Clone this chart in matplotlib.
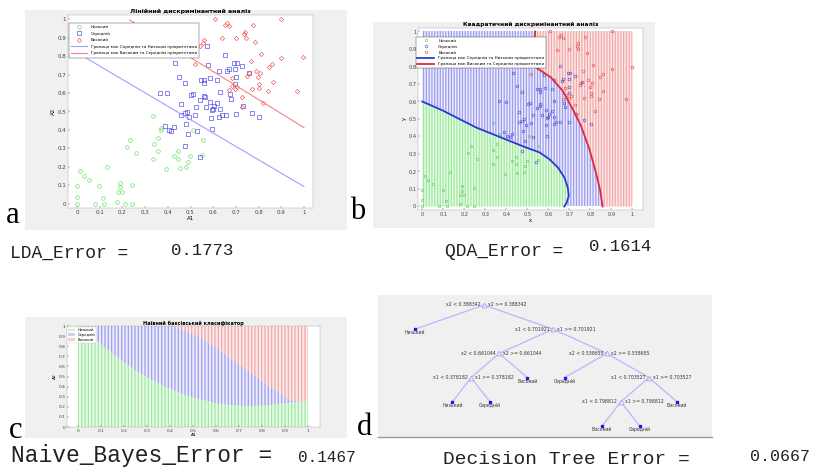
import numpy as np
import matplotlib
matplotlib.use('Agg')
import matplotlib.pyplot as plt
from matplotlib.patches import Rectangle, Patch

# ---------------- data ----------------
low_x = [0.0, 0.0, 0.0, 0.015, 0.029, 0.053, 0.078, 0.097, 0.115, 0.118, 0.134, 0.178, 0.182, 0.188, 0.188,
         0.197, 0.212, 0.218, 0.232, 0.244, 0.244, 0.259, 0.335, 0.335, 0.338, 0.356, 0.357, 0.368, 0.372, 0.394,
         0.429, 0.444, 0.446, 0.453, 0.482, 0.487, 0.497, 0.509, 0.549, 0.553]
low_y = [0.097, 0.036, 0.0, 0.177, 0.151, 0.13, 0.0, 0.097, 0.032, 0.0, 0.198, 0.013, 0.067, 0.115, 0.09,
         0.067, 0.0, 0.306, 0.346, 0.103, 0.0, 0.274, 0.241, 0.477, 0.324, 0.357, 0.285, 0.413, 0.4, 0.187,
         0.261, 0.241, 0.285, 0.193, 0.198, 0.229, 0.259, 0.4, 0.267, 0.346]
mid_x = [0.366, 0.397, 0.387, 0.404, 0.416, 0.426, 0.431, 0.449, 0.459, 0.46, 0.474, 0.476, 0.476, 0.479, 0.485,
         0.49, 0.494, 0.501, 0.512, 0.518, 0.526, 0.529, 0.54, 0.544, 0.546, 0.559, 0.559, 0.559, 0.562, 0.568,
         0.574, 0.578, 0.585, 0.588, 0.591, 0.593, 0.594, 0.6, 0.603, 0.615, 0.618, 0.625, 0.625, 0.629, 0.629,
         0.638, 0.654, 0.656, 0.663, 0.671, 0.674, 0.679, 0.693, 0.696, 0.697, 0.7, 0.703, 0.728, 0.732, 0.76,
         0.771, 0.801, 0.7]
mid_y = [0.602, 0.598, 0.423, 0.4, 0.396, 0.414, 0.76, 0.688, 0.541, 0.48, 0.315, 0.49, 0.652, 0.432, 0.499,
         0.377, 0.468, 0.587, 0.593, 0.479, 0.522, 0.396, 0.252, 0.562, 0.67, 0.656, 0.67, 0.584, 0.577, 0.522,
         0.854, 0.75, 0.679, 0.553, 0.463, 0.508, 0.405, 0.514, 0.53, 0.67, 0.544, 0.72, 0.472, 0.605, 0.512,
         0.481, 0.805, 0.481, 0.719, 0.728, 0.593, 0.566, 0.76, 0.728, 0.649, 0.485, 0.764, 0.748, 0.53, 0.71,
         0.494, 0.472, 0.685]
high_x = [0.518, 0.541, 0.553, 0.559, 0.607, 0.64, 0.651, 0.662, 0.668, 0.671, 0.681, 0.685, 0.7, 0.697, 0.706,
          0.725, 0.729, 0.737, 0.741, 0.743, 0.749, 0.756, 0.765, 0.771, 0.776, 0.785, 0.79, 0.797, 0.804, 0.804,
          0.806, 0.81, 0.821, 0.843, 0.847, 0.859, 0.862, 0.901, 0.901, 0.968, 0.997]
high_y = [0.755, 0.854, 0.868, 0.886, 1.0, 0.895, 0.968, 0.98, 0.962, 0.616, 0.679, 0.638, 0.9, 0.62, 0.634,
          0.58, 0.526, 0.917, 0.932, 0.9, 0.692, 0.706, 0.775, 0.62, 0.968, 0.878, 0.721, 0.685, 0.647, 0.629,
          0.706, 0.811, 0.544, 0.613, 0.739, 0.757, 0.661, 0.787, 1.0, 0.613, 0.796]

class_names = ['Низький', 'Середній', 'Високий']
boundary_names = ['Границя між Середнім та Низьким пріоритетами',
                  'Границя між Високим та Середнім пріоритетами']

# LDA boundary lines
lda_mid_low_x = [0.0, 1.0]
lda_mid_low_y = [0.818, 0.094]
lda_high_mid_x = [0.232, 1.0]
lda_high_mid_y = [0.995, 0.413]

# QDA boundary curves (x as a function of y)
qda_mid_low_y = [0.6, 0.547, 0.499, 0.451, 0.413, 0.375, 0.337, 0.309, 0.27, 0.223, 0.166, 0.109, 0.061, 0.023, 0.0]
qda_mid_low_x = [0.0, 0.1, 0.178, 0.257, 0.336, 0.415, 0.494, 0.558, 0.605, 0.645, 0.676, 0.692, 0.697, 0.687, 0.676]
qda_high_mid_y = [1.0, 0.9, 0.82, 0.794, 0.737, 0.661, 0.556, 0.461, 0.328, 0.194, 0.1, 0.0]
qda_high_mid_x = [0.537, 0.532, 0.532, 0.542, 0.613, 0.668, 0.716, 0.755, 0.795, 0.826, 0.845, 0.858]

# Naive Bayes region borders (y as a function of x)
nb_low_x = [0.0, 0.05, 0.097, 0.169, 0.241, 0.314, 0.386, 0.458, 0.53, 0.603, 0.675, 0.747, 0.819, 0.892, 0.964, 1.0]
nb_low_y = [0.97, 0.92, 0.823, 0.69, 0.573, 0.473, 0.39, 0.323, 0.273, 0.233, 0.213, 0.207, 0.213, 0.233, 0.25, 0.255]
nb_high_x = [0.415, 0.47, 0.53, 0.6, 0.675, 0.75, 0.82, 0.88, 0.92, 0.95, 1.0]
nb_high_y = [1.0, 0.95, 0.89, 0.79, 0.66, 0.54, 0.42, 0.33, 0.27, 0.255, 0.255]

# Decision tree
node_var = ['x2', None, 'x1', 'x2', 'x2', 'x1', None, None, None, None, 'x1', 'x1', None, None, None]
node_cut = [0.388342, None, 0.701921, 0.661044, 0.538655, 0.378182, None, None, None, None,
            0.703527, 0.798812, None, None, None]
node_left = [1, -1, 3, 5, 9, 7, -1, -1, -1, -1, 11, 13, -1, -1, -1]
node_right = [2, -1, 4, 6, 10, 8, -1, -1, -1, -1, 12, 14, -1, -1, -1]
node_class = [None, 'Низький', None, None, None, None, 'Високий', 'Низький', 'Середній', 'Середній',
              None, None, 'Високий', 'Високий', 'Середній']

error_names = ['LDA_Error =', 'QDA_Error =', 'Naive_Bayes_Error =', 'Decision Tree Error =']
error_values = ['0.1773', '0.1614', '0.1467', '0.0667']
panel_letters = ['a', 'b', 'c', 'd']

# ---------------- figure ----------------
W, H = 814, 469
fig = plt.figure(figsize=(W / 100, H / 100), dpi=100)
fig.patch.set_facecolor('white')
plt.rcParams['font.family'] = ['DejaVu Sans']
plt.rcParams['hatch.linewidth'] = 0.9

GRAY = '#f0f0f0'


def ax_px(x0, y0, x1, y1, **kw):
    return fig.add_axes([x0 / W, 1 - y1 / H, (x1 - x0) / W, (y1 - y0) / H], **kw)


def bg(x0, y0, x1, y1, color=GRAY):
    fig.add_artist(Rectangle((x0 / W, 1 - y1 / H), (x1 - x0) / W, (y1 - y0) / H,
                             transform=fig.transFigure, facecolor=color, edgecolor='none', zorder=-10))


def style(ax, fs=3.6):
    ax.set_facecolor('white')
    ax.tick_params(labelsize=fs, length=1.2, width=0.3, direction='in', pad=1.2, colors='#404040')
    for s in ax.spines.values():
        s.set_linewidth(0.35)
        s.set_color('#b0b0b0')
    ticks = np.round(np.arange(0, 1.01, 0.1), 1)
    labels = ['0'] + ['%.1f' % t for t in ticks[1:-1]] + ['1']
    ax.set_xticks(ticks)
    ax.set_xticklabels(labels)
    ax.set_yticks(ticks)
    ax.set_yticklabels(labels)


def fx(x):
    return x / W


def fy(y):
    return 1 - y / H


# ---- panel a: LDA ----
bg(25, 10, 347, 230)
axa = ax_px(68, 15, 313, 208)
style(axa, 4)
axa.plot(low_x, low_y, 'o', ms=2.6, mfc='none', mec='#55dd55', mew=0.45, label=class_names[0])
axa.plot(mid_x, mid_y, 's', ms=2.3, mfc='none', mec='#4646e6', mew=0.45, label=class_names[1])
axa.plot(high_x, high_y, 'D', ms=2.2, mfc='none', mec='#f25050', mew=0.45, label=class_names[2])
axa.plot(lda_mid_low_x, lda_mid_low_y, color='#a0a0ff', lw=0.8, label=boundary_names[0])
axa.plot(lda_high_mid_x, lda_high_mid_y, color='#ff8080', lw=0.8, label=boundary_names[1])
axa.set_xlim(-0.04, 1.04)
axa.set_ylim(-0.022, 1.022)
axa.set_title('Лінійний дискримінантний аналіз', fontsize=4.5, fontweight='bold', pad=1.5)
axa.set_xlabel('A1', fontsize=4, labelpad=1)
axa.set_ylabel('A2', fontsize=4, labelpad=1)
leg = axa.legend(loc='upper left', bbox_to_anchor=(0.004, 0.96), fontsize=3.0, frameon=True, fancybox=False,
                 borderpad=0.6, labelspacing=0.6, handlelength=3.8, handletextpad=0.8, borderaxespad=0,
                 framealpha=1)
leg.get_frame().set_linewidth(0.35)
leg.get_frame().set_edgecolor('#555555')

# ---- panel b: QDA ----
bg(373, 22, 655, 228)
axb = ax_px(418, 28, 643, 210)
style(axb, 3.6)
axb.fill_between([0, 1], 0, 1, facecolor='#ececfb', edgecolor='#9c9cf0', hatch='||||||', lw=0, zorder=0)
axb.fill_betweenx(qda_mid_low_y, 0, qda_mid_low_x, facecolor='#e9f9e9', edgecolor='#9ceb9c',
                  hatch='||||||', lw=0, zorder=0.5)
axb.fill_betweenx(qda_high_mid_y, qda_high_mid_x, 1, facecolor='#fbeaea', edgecolor='#f4a8a8',
                  hatch='||||||', lw=0, zorder=0.5)
axb.plot(low_x, low_y, 's', ms=2.0, mfc='none', mec='#55cc55', mew=0.4, label=class_names[0], zorder=2)
axb.plot(mid_x, mid_y, 'o', ms=2.0, mfc='none', mec='#4040d0', mew=0.4, label=class_names[1], zorder=2)
axb.plot(high_x, high_y, 'o', ms=2.0, mfc='none', mec='#e04848', mew=0.4, label=class_names[2], zorder=2)
axb.plot(qda_mid_low_x, qda_mid_low_y, color='#2a3ad8', lw=1.3, label=boundary_names[0], zorder=3)
axb.plot(qda_high_mid_x, qda_high_mid_y, color='#e0283c', lw=1.3, label=boundary_names[1], zorder=3)
axb.set_xlim(-0.02, 1.05)
axb.set_ylim(-0.02, 1.02)
axb.set_title('Квадратичний дискримінантний аналіз', fontsize=4.2, fontweight='bold', pad=1.5)
axb.set_xlabel('x', fontsize=3.6, labelpad=1)
axb.set_ylabel('y', fontsize=3.6, labelpad=1)
legb = axb.legend(loc='upper left', bbox_to_anchor=(-0.01, 0.95), fontsize=3.0, frameon=True, fancybox=False,
                  borderpad=0.4, labelspacing=0.45, handlelength=4, handletextpad=1.0, borderaxespad=0,
                  framealpha=1)
legb.get_frame().set_linewidth(0.35)
legb.get_frame().set_edgecolor('#555555')
legb.set_zorder(5)

# ---- panel c: Naive Bayes ----
bg(25, 317, 347, 438)
axc = ax_px(67, 326, 320, 427)
style(axc, 3.2)
axc.fill_between([0, 1], 0, 1, facecolor='#ececfb', edgecolor='#9c9cf0', hatch='|||||', lw=0, zorder=0)
axc.fill_between(nb_low_x, 0, nb_low_y, facecolor='#e9f9e9', edgecolor='#9ceb9c', hatch='|||||', lw=0,
                 zorder=0.5)
axc.fill_between(nb_high_x, nb_high_y, 1, facecolor='#fbeaea', edgecolor='#f4a8a8', hatch='|||||', lw=0,
                 zorder=0.5)
axc.set_xlim(-0.048, 1.052)
axc.set_ylim(0, 1.0)
axc.set_title('Наївний баєсівський класифікатор', fontsize=3.6, fontweight='bold', pad=0.5)
axc.set_xlabel('A1', fontsize=3.2, labelpad=0.5)
axc.set_ylabel('A2', fontsize=3.2, labelpad=1)
handles_c = [Patch(facecolor=c, edgecolor='none') for c in ['#c8f2c8', '#cfcff5', '#f5cfcf']]
legc = axc.legend(handles_c, class_names, loc='upper left', bbox_to_anchor=(0.0, 0.99), fontsize=2.6,
                  frameon=True, fancybox=False, borderpad=0.3, labelspacing=0.2, handlelength=2,
                  handletextpad=0.6, borderaxespad=0, framealpha=1)
legc.get_frame().set_linewidth(0.3)

# ---- panel d: decision tree ----
bg(378, 295, 712, 437)
axd = ax_px(378, 295, 712, 437)
axd.set_facecolor(GRAY)
for s in axd.spines.values():
    s.set_visible(False)
axd.spines['bottom'].set_visible(True)
axd.spines['bottom'].set_color('#9a9a9a')
axd.spines['bottom'].set_linewidth(1.0)
axd.set_xticks([])
axd.set_yticks([])

pos = {}
counter = [0]


def layout(n, d):
    if node_left[n] < 0:
        counter[0] += 1
        pos[n] = (counter[0], d)
    else:
        layout(node_left[n], d + 1)
        layout(node_right[n], d + 1)
        pos[n] = ((pos[node_left[n]][0] + pos[node_right[n]][0]) / 2, d)


layout(0, 0)
for n in range(len(node_var)):
    x, d = pos[n]
    if node_left[n] >= 0:
        for c in (node_left[n], node_right[n]):
            cx, cd = pos[c]
            axd.plot([x, cx], [d, cd], color='#bcbcfa', lw=1.0, zorder=1)
for n in range(len(node_var)):
    x, d = pos[n]
    if node_left[n] >= 0:
        axd.plot(x, d, '^', ms=3.5, mfc=GRAY, mec='#a8a8f5', mew=0.6, zorder=3)
        axd.text(x - 0.1, d, '%s < %g' % (node_var[n], node_cut[n]), fontsize=3.3, ha='right', va='center',
                 color='#333333', zorder=4)
        axd.text(x + 0.1, d, '%s >= %g' % (node_var[n], node_cut[n]), fontsize=3.3, ha='left', va='center',
                 color='#333333', zorder=4)
    else:
        axd.plot(x, d, 's', ms=2.0, mfc='#1a1ae8', mec='#1a1ae8', zorder=3)
        axd.text(x, d + 0.15, node_class[n], fontsize=3.3, ha='center', va='center', color='#333333', zorder=4)
axd.set_xlim(0.0115, 8.935)
axd.set_ylim(5.455, -0.413)

# ---- error texts and panel letters ----
mono = 'Liberation Mono'
TC = '#222222'
fig.text(fx(10), fy(253), error_names[0], family=mono, fontsize=13, ha='left', va='center', color=TC)
fig.text(fx(171), fy(250), error_values[0], family=mono, fontsize=12.5, ha='left', va='center', color=TC)
fig.text(fx(445), fy(251), error_names[1], family=mono, fontsize=13, ha='left', va='center', color=TC)
fig.text(fx(589), fy(246), error_values[1], family=mono, fontsize=12.5, ha='left', va='center', color=TC)
fig.text(fx(11), fy(455), error_names[2], family=mono, fontsize=16.5, ha='left', va='center', color=TC)
fig.text(fx(298), fy(457), error_values[2], family=mono, fontsize=11.5, ha='left', va='center', color=TC)
fig.text(fx(443), fy(459), error_names[3], family=mono, fontsize=14, ha='left', va='center', color=TC)
fig.text(fx(750), fy(456), error_values[3], family=mono, fontsize=12, ha='left', va='center', color=TC)

serif = 'Liberation Serif'
fig.text(fx(13), fy(215), panel_letters[0], family=serif, fontsize=22, ha='center', va='center')
fig.text(fx(358), fy(211), panel_letters[1], family=serif, fontsize=22, ha='center', va='center')
fig.text(fx(16), fy(430), panel_letters[2], family=serif, fontsize=22, ha='center', va='center')
fig.text(fx(364), fy(427), panel_letters[3], family=serif, fontsize=22, ha='center', va='center')

fig.savefig('out.png', dpi=100)
